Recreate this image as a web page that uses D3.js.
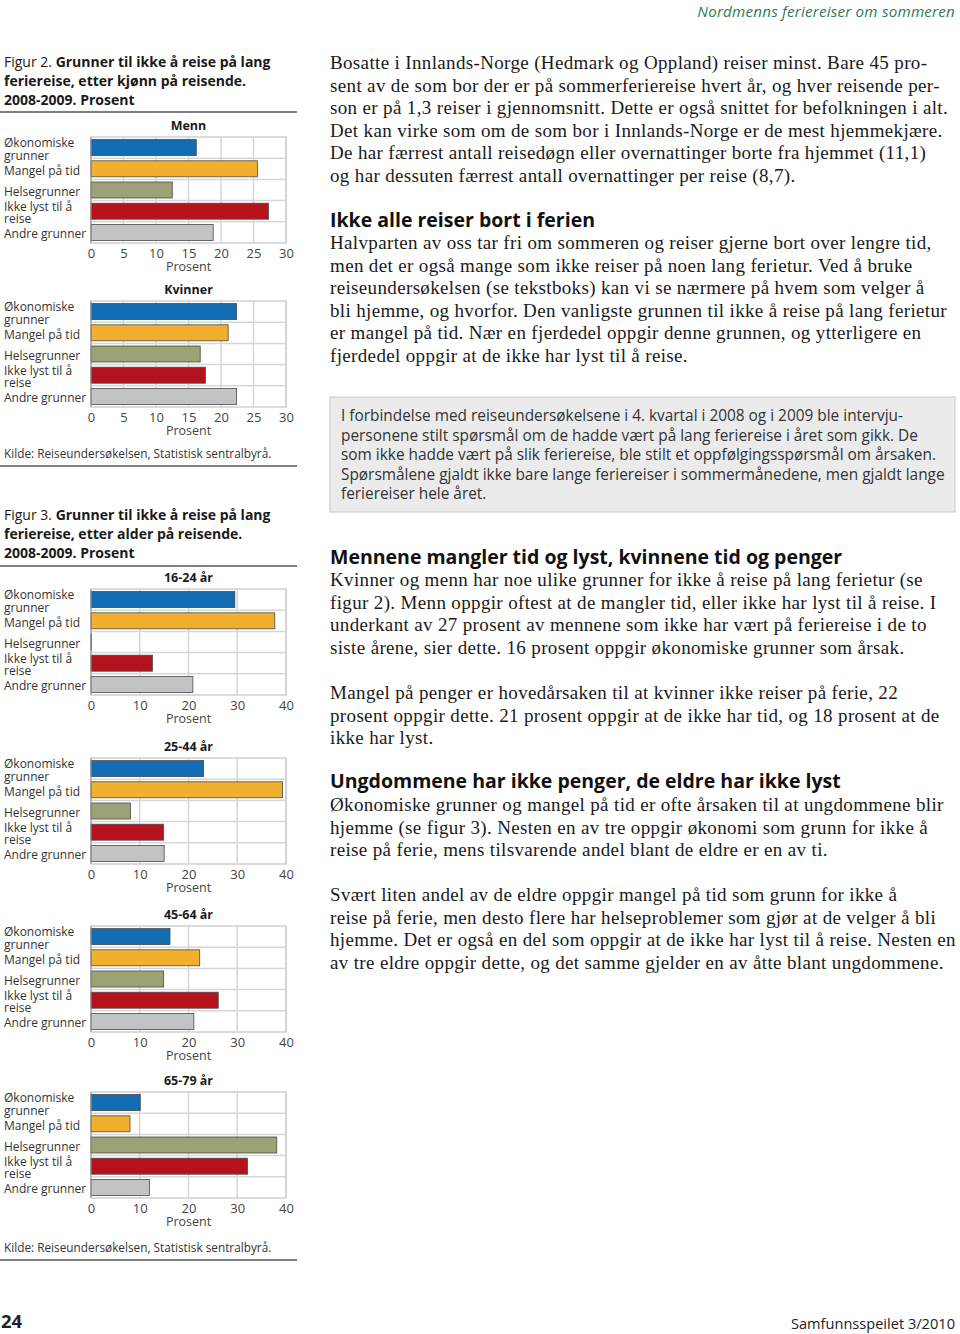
<!DOCTYPE html>
<html><head><meta charset="utf-8">
<script src="https://cdn.jsdelivr.net/npm/d3@7/dist/d3.min.js"></script>
<style>
html,body{margin:0;padding:0;background:#fff;}
svg{display:block;}
</style></head>
<body>
<script>
// ---------- DATA ----------
const categories = ["Økonomiske grunner", "Mangel på tid", "Helsegrunner", "Ikke lyst til å reise", "Andre grunner"];
const categoryLines = [["Økonomiske", "grunner"], ["Mangel på tid"], ["Helsegrunner"], ["Ikke lyst til å", "reise"], ["Andre grunner"]];
const categoryColors = ["#136db3", "#f0b02e", "#9ca275", "#b5121e", "#c2c3c5"];

const menn    = [16.2, 25.6, 12.5, 27.3, 18.8];
const kvinner = [22.4, 21.1, 16.8, 17.6, 22.4];
const age1624 = [29.5, 37.7, 0.1, 12.6, 20.9];
const age2544 = [23.1, 39.3, 8.1, 14.9, 15.0];
const age4564 = [16.2, 22.3, 14.9, 26.1, 21.1];
const age6579 = [10.1, 8.0, 38.1, 32.1, 12.0];

const ticksFig2 = [0, 5, 10, 15, 20, 25, 30];
const ticksFig3 = [0, 10, 20, 30, 40];

const sansFont = "'Open Sans', 'Noto Sans', sans-serif";
const serifFont = "'Liberation Serif', 'DejaVu Serif', serif";

const svg = d3.select("body").append("svg").attr("width", 960).attr("height", 1334);

// ---------- HEADER / FOOTER ----------
svg.append("text").attr("x", 955).attr("y", 16.5).attr("text-anchor", "end")
  .attr("font-family", sansFont).attr("font-style", "italic").attr("font-size", 15.2)
  .attr("letter-spacing", 0.2).attr("fill", "#2f7a55").text("Nordmenns feriereiser om sommeren");
svg.append("text").attr("x", 1).attr("y", 1328).attr("font-family", sansFont)
  .attr("font-weight", "bold").attr("font-size", 18.5).attr("fill", "#222").text("24");
svg.append("text").attr("x", 955).attr("y", 1329).attr("text-anchor", "end")
  .attr("font-family", sansFont).attr("font-size", 14.6).attr("fill", "#222").text("Samfunnsspeilet 3/2010");

// ---------- FIGURE TITLES ----------
function figTitle(lines, y0) {
  lines.forEach((ln, i) => {
    const t = svg.append("text").attr("x", 4).attr("y", y0 + i * 19)
      .attr("font-family", sansFont).attr("font-size", 14).attr("fill", "#1a1a1a");
    if (ln[0]) t.append("tspan").text(ln[0]);
    t.append("tspan").attr("font-weight", "bold").text(ln[1]);
  });
}
function rule(y) {
  svg.append("line").attr("x1", 0).attr("x2", 297).attr("y1", y).attr("y2", y)
    .attr("stroke", "#555").attr("stroke-width", 1.5);
}
figTitle([["Figur 2. ", "Grunner til ikke å reise på lang"], ["", "feriereise, etter kjønn på reisende."], ["", "2008-2009. Prosent"]], 67);
rule(112);
figTitle([["Figur 3. ", "Grunner til ikke å reise på lang"], ["", "feriereise, etter alder på reisende."], ["", "2008-2009. Prosent"]], 520);
rule(566);

function source(y) {
  svg.append("text").attr("x", 4).attr("y", y).attr("font-family", sansFont)
    .attr("font-size", 11.8).attr("fill", "#333").text("Kilde: Reiseundersøkelsen, Statistisk sentralbyrå.");
}
source(458); rule(466);
source(1252); rule(1260);

// ---------- PANELS ----------
const plotLeft = 91, plotRight = 286, plotH = 106;
function panel(title, values, maxV, ticks, top) {
  const g = svg.append("g");
  const x = d3.scaleLinear().domain([0, maxV]).range([plotLeft, plotRight]);
  const step = plotH / categories.length;
  // title
  g.append("text").attr("x", (plotLeft + plotRight) / 2).attr("y", top - 7).attr("text-anchor", "middle")
    .attr("font-family", sansFont).attr("font-weight", "bold").attr("font-size", 12.5).attr("fill", "#1a1a1a").text(title);
  // grid
  g.selectAll(".vg").data(ticks).enter().append("line")
    .attr("x1", d => x(d)).attr("x2", d => x(d)).attr("y1", top).attr("y2", top + plotH)
    .attr("stroke", "#d6d6d6").attr("stroke-width", 1.5);
  g.selectAll(".hg").data(d3.range(1, categories.length)).enter().append("line")
    .attr("x1", plotLeft).attr("x2", plotRight).attr("y1", d => top + d * step).attr("y2", d => top + d * step)
    .attr("stroke", "#d6d6d6").attr("stroke-width", 1.5);
  g.append("rect").attr("x", plotLeft).attr("y", top).attr("width", plotRight - plotLeft).attr("height", plotH)
    .attr("fill", "none").attr("stroke", "#d0d0d0").attr("stroke-width", 1.5);
  // bars
  g.selectAll(".bar").data(values).enter().append("rect")
    .attr("x", x(0)).attr("y", (d, i) => top + i * step + (step - 16) / 2)
    .attr("width", d => Math.max(0.5, x(d) - x(0))).attr("height", 16)
    .attr("fill", (d, i) => categoryColors[i]).attr("stroke", "#4a4a4a").attr("stroke-width", 0.8);
  // axis line
  g.append("line").attr("x1", x(0)).attr("x2", x(0)).attr("y1", top).attr("y2", top + plotH)
    .attr("stroke", "#9a9a9a").attr("stroke-width", 1);
  // category labels (multi-line labels as one text element with tspans)
  categoryLines.forEach((lines, i) => {
    const cy = top + i * step + step / 2 + 1.5;
    const n = lines.length;
    const t = g.append("text").attr("x", 4).attr("y", cy - (n - 1) / 2 * 12.5 + 4.3)
      .attr("font-family", sansFont).attr("font-size", 12).attr("fill", "#333");
    lines.forEach((ln, j) => {
      t.append("tspan").attr("x", 4).attr("dy", j === 0 ? 0 : 12.5).text(ln);
    });
  });
  // tick labels
  const axis = d3.axisBottom(x).tickValues(ticks).tickSize(0).tickPadding(6);
  const ag = g.append("g").attr("transform", `translate(0,${top + plotH})`).call(axis);
  ag.select(".domain").remove();
  ag.selectAll("text").attr("font-family", sansFont).attr("font-size", 13).attr("fill", "#444");
  g.append("text").attr("x", (plotLeft + plotRight) / 2).attr("y", top + plotH + 28).attr("text-anchor", "middle")
    .attr("font-family", sansFont).attr("font-size", 12.5).attr("fill", "#444").text("Prosent");
}
panel("Menn", menn, 30, ticksFig2, 137);
panel("Kvinner", kvinner, 30, ticksFig2, 301);
panel("16-24 år", age1624, 40, ticksFig3, 589);
panel("25-44 år", age2544, 40, ticksFig3, 758);
panel("45-64 år", age4564, 40, ticksFig3, 926);
panel("65-79 år", age6579, 40, ticksFig3, 1092);

// ---------- RIGHT COLUMN TEXT ----------
const tx = 330;
function para(lines, y0, step) {
  lines.forEach((ln, i) => {
    svg.append("text").attr("x", tx).attr("y", y0 + i * step).attr("font-family", serifFont)
      .attr("font-size", 19).attr("letter-spacing", 0.35).attr("fill", "#1a1a1a").text(ln);
  });
}
function heading(t, y) {
  svg.append("text").attr("x", tx).attr("y", y).attr("font-family", sansFont).attr("font-weight", "bold")
    .attr("font-size", 19.5).attr("fill", "#111").text(t);
}
para(["Bosatte i Innlands-Norge (Hedmark og Oppland) reiser minst. Bare 45 pro-",
  "sent av de som bor der er på sommerferiereise hvert år, og hver reisende per-",
  "son er på 1,3 reiser i gjennomsnitt. Dette er også snittet for befolkningen i alt.",
  "Det kan virke som om de som bor i Innlands-Norge er de mest hjemmekjære.",
  "De har færrest antall reisedøgn eller overnattinger borte fra hjemmet (11,1)",
  "og har dessuten færrest antall overnattinger per reise (8,7)."], 69, 22.6);
heading("Ikke alle reiser bort i ferien", 227);
para(["Halvparten av oss tar fri om sommeren og reiser gjerne bort over lengre tid,",
  "men det er også mange som ikke reiser på noen lang ferietur. Ved å bruke",
  "reiseundersøkelsen (se tekstboks) kan vi se nærmere på hvem som velger å",
  "bli hjemme, og hvorfor. Den vanligste grunnen til ikke å reise på lang ferietur",
  "er mangel på tid. Nær en fjerdedel oppgir denne grunnen, og ytterligere en",
  "fjerdedel oppgir at de ikke har lyst til å reise."], 249, 22.6);

svg.append("rect").attr("x", 330).attr("y", 397).attr("width", 625).attr("height", 115)
  .attr("fill", "#ebebeb").attr("stroke", "#cfcfcf").attr("stroke-width", 1.2);
["I forbindelse med reiseundersøkelsene i 4. kvartal i 2008 og i 2009 ble intervju-",
 "personene stilt spørsmål om de hadde vært på lang feriereise i året som gikk. De",
 "som ikke hadde vært på slik feriereise, ble stilt et oppfølgingsspørsmål om årsaken.",
 "Spørsmålene gjaldt ikke bare lange feriereiser i sommermånedene, men gjaldt lange",
 "feriereiser hele året."].forEach((ln, i) => {
  svg.append("text").attr("x", 341).attr("y", 421 + i * 19.6).attr("font-family", sansFont)
    .attr("font-size", 15.4).attr("fill", "#333").text(ln);
});

heading("Mennene mangler tid og lyst, kvinnene tid og penger", 564);
para(["Kvinner og menn har noe ulike grunner for ikke å reise på lang ferietur (se",
  "figur 2). Menn oppgir oftest at de mangler tid, eller ikke har lyst til å reise. I",
  "underkant av 27 prosent av mennene som ikke har vært på feriereise i de to",
  "siste årene, sier dette. 16 prosent oppgir økonomiske grunner som årsak."], 586, 22.6);
para(["Mangel på penger er hovedårsaken til at kvinner ikke reiser på ferie, 22",
  "prosent oppgir dette. 21 prosent oppgir at de ikke har tid, og 18 prosent at de",
  "ikke har lyst."], 699, 22.6);
heading("Ungdommene har ikke penger, de eldre har ikke lyst", 788);
para(["Økonomiske grunner og mangel på tid er ofte årsaken til at ungdommene blir",
  "hjemme (se figur 3). Nesten en av tre oppgir økonomi som grunn for ikke å",
  "reise på ferie, mens tilsvarende andel blant de eldre er en av ti."], 811, 22.6);
para(["Svært liten andel av de eldre oppgir mangel på tid som grunn for ikke å",
  "reise på ferie, men desto flere har helseproblemer som gjør at de velger å bli",
  "hjemme. Det er også en del som oppgir at de ikke har lyst til å reise. Nesten en",
  "av tre eldre oppgir dette, og det samme gjelder en av åtte blant ungdommene."], 901, 22.6);
</script>
</body></html>
